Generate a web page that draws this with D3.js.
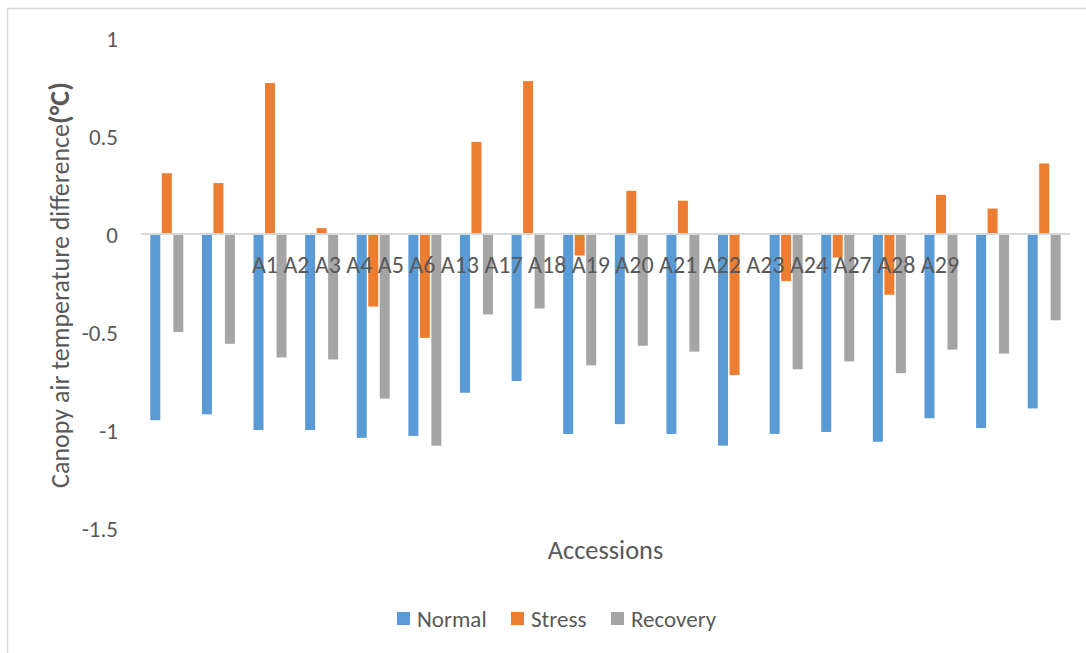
<!DOCTYPE html>
<html>
<head>
<meta charset="utf-8">
<script src="https://cdn.jsdelivr.net/npm/d3@7"></script>
<style>
  html, body { margin: 0; padding: 0; background: #fff; }
  svg { display: block; }
  text { font-family: Carlito, "Open Sans", "Liberation Sans", sans-serif; fill: #595959; }
</style>
</head>
<body>
<svg id="chart" width="1086" height="653"></svg>
<script>
// Accessions and per-condition canopy–air temperature differences (°C)
const accessions = ["A1","A2","A3","A4","A5","A6","A13","A17","A18","A19","A20","A21","A22","A23","A24","A27","A28","A29"];
const seriesNames = ["Normal","Stress","Recovery"];
const normal   = [-0.95,-0.92,-1.00,-1.00,-1.04,-1.03,-0.81,-0.75,-1.02,-0.97,-1.02,-1.08,-1.02,-1.01,-1.06,-0.94,-0.99,-0.89];
const stress   = [ 0.31, 0.26, 0.77, 0.03,-0.37,-0.53, 0.47, 0.78,-0.11, 0.22, 0.17,-0.72,-0.24,-0.12,-0.31, 0.20, 0.13, 0.36];
const recovery = [-0.50,-0.56,-0.63,-0.64,-0.84,-1.08,-0.41,-0.38,-0.67,-0.57,-0.60, 0.00,-0.69,-0.65,-0.71,-0.59,-0.61,-0.44];
const yTicks = [1, 0.5, 0, -0.5, -1, -1.5];
const colors = ["#5B9BD5", "#ED7D31", "#A5A5A5"];

const values = [normal, stress, recovery];
const svg = d3.select("#chart");

// chart frame
svg.append("rect")
  .attr("x", 7.5).attr("y", 8.5)
  .attr("width", 1100).attr("height", 700)
  .attr("fill", "#fff").attr("stroke", "#D9D9D9").attr("stroke-width", 1.5);

const plot = { left: 141, right: 1070, top: 38, bottom: 528 };

const x0 = d3.scaleBand().domain(accessions).range([plot.left, plot.right]).paddingInner(0).paddingOuter(0);
const x1 = d3.scaleBand().domain(seriesNames).range([0, x0.bandwidth()]).paddingInner(0.13).paddingOuter(0.81);
const y = d3.scaleLinear().domain([-1.5, 1]).range([plot.bottom, plot.top]);

// value axis labels (no axis line, no gridlines)
const yAxis = d3.axisLeft(y).tickValues(yTicks).tickSize(0).tickPadding(0)
  .tickFormat(d => d3.format("")(d).replace("−", "-"));
const yg = svg.append("g").attr("transform", `translate(118,0)`).call(yAxis);
yg.select(".domain").remove();
yg.selectAll("text").style("font-size", "23px").attr("fill", "#595959").attr("dy", "0.35em");

// bars
const groups = svg.append("g").selectAll("g")
  .data(accessions)
  .join("g")
  .attr("transform", d => `translate(${x0(d)},0)`);

groups.selectAll("rect")
  .data((d, i) => seriesNames.map((s, k) => ({ s, k, v: values[k][i] })))
  .join("rect")
  .attr("x", d => x1(d.s))
  .attr("width", x1.bandwidth())
  .attr("y", d => Math.min(y(d.v), y(0)))
  .attr("height", d => Math.abs(y(d.v) - y(0)))
  .attr("fill", d => colors[d.k]);

// category axis line at zero
svg.append("line")
  .attr("x1", plot.left).attr("x2", plot.right)
  .attr("y1", y(0)).attr("y2", y(0))
  .attr("stroke", "#D9D9D9").attr("stroke-width", 2);

// category labels, drawn as one run of text centred on the axis
svg.append("text")
  .attr("x", (plot.left + plot.right) / 2)
  .attr("y", 273)
  .attr("text-anchor", "middle")
  .style("font-size", "24px")
  .text(accessions.join(" "));

// axis titles
svg.append("text")
  .attr("x", (plot.left + plot.right) / 2)
  .attr("y", 559)
  .attr("text-anchor", "middle")
  .style("font-size", "26.4px")
  .text("Accessions");

const yt = svg.append("text")
  .attr("transform", "translate(69,285) rotate(-90)")
  .attr("text-anchor", "middle")
  .style("font-size", "26px");
yt.append("tspan").text("Canopy air temperature difference");
yt.append("tspan").style("font-weight", "bold").style("font-size", "28px").text("(°C)");

// legend
const legendX = [397, 511, 611];
const lg = svg.append("g").selectAll("g")
  .data(seriesNames)
  .join("g")
  .attr("transform", (d, i) => `translate(${legendX[i]},612)`);
lg.append("rect").attr("width", 13).attr("height", 13).attr("fill", (d, i) => colors[i]);
lg.append("text").attr("x", 20).attr("y", 15).style("font-size", "23px").text(d => d);
</script>
</body>
</html>
